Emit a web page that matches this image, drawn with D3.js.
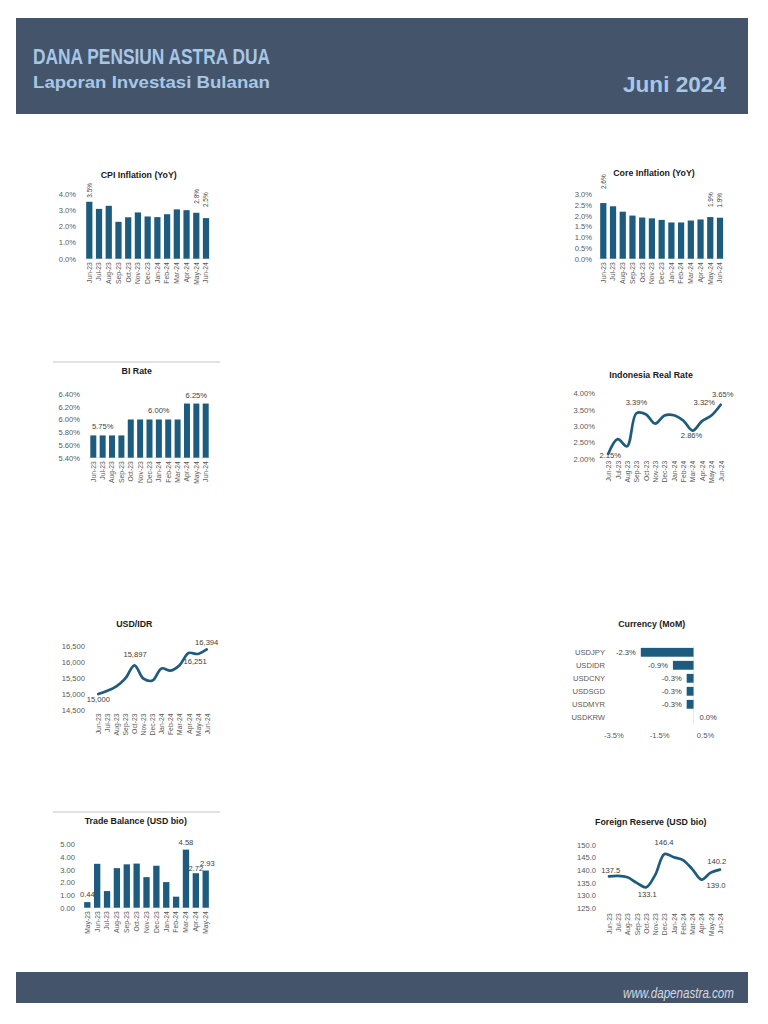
<!DOCTYPE html>
<html>
<head>
<meta charset="utf-8">
<script src="https://cdn.jsdelivr.net/npm/d3@7"></script>
<style>
  body { margin: 0; background: #fff; }
  svg text { font-family: "Liberation Sans", Arial, sans-serif; }
</style>
</head>
<body>
<div id="page"></div>
<script>
// data
var months = ["Jun-23", "Jul-23", "Aug-23", "Sep-23", "Oct-23", "Nov-23", "Dec-23",
              "Jan-24", "Feb-24", "Mar-24", "Apr-24", "May-24", "Jun-24"];
var tradeMonths = ["May-23", "Jun-23", "Jul-23", "Aug-23", "Sep-23", "Oct-23", "Nov-23",
                   "Dec-23", "Jan-24", "Feb-24", "Mar-24", "Apr-24", "May-24"];

var cpiValues = [3.52, 3.08, 3.27, 2.28, 2.56, 2.86, 2.61, 2.57, 2.75, 3.05, 3.00, 2.84, 2.51];
var coreValues = [2.58, 2.43, 2.18, 2.00, 1.91, 1.87, 1.80, 1.68, 1.68, 1.77, 1.82, 1.93, 1.90];
var biRateValues = [5.75, 5.75, 5.75, 5.75, 6.00, 6.00, 6.00, 6.00, 6.00, 6.00, 6.25, 6.25, 6.25];
var realRateValues = [2.15, 2.60, 2.38, 3.39, 3.36, 3.07, 3.32, 3.33, 3.17, 2.86, 3.15, 3.32, 3.65];
var usdIdrValues = [15000, 15100, 15240, 15487, 15897, 15480, 15420, 15800, 15730, 15900, 16280, 16251, 16394];
var currencyPairs = ["USDJPY", "USDIDR", "USDCNY", "USDSGD", "USDMYR", "USDKRW"];
var currencyValues = [-2.3, -0.9, -0.3, -0.3, -0.3, 0.0];
var tradeValues = [0.44, 3.46, 1.31, 3.12, 3.42, 3.48, 2.41, 3.31, 2.02, 0.87, 4.58, 2.72, 2.93];
var reserveValues = [137.5, 137.7, 137.1, 134.9, 133.1, 138.1, 146.4, 145.1, 144.0, 140.4, 136.2, 139.0, 140.2];

// tick labels
var cpiTicks = [0, 1, 2, 3, 4];
var coreTicks = [0, 0.5, 1, 1.5, 2, 2.5, 3];
var biTicks = [5.4, 5.6, 5.8, 6.0, 6.2, 6.4];
var realTicks = [2, 2.5, 3, 3.5, 4];
var usdIdrTicks = [14500, 15000, 15500, 16000, 16500];
var currencyTicks = [-3.5, -1.5, 0.5];
var tradeTicks = [0, 1, 2, 3, 4, 5];
var reserveTicks = [125, 130, 135, 140, 145, 150];

var barColor = "#1d5c7e";
var axisText = "#595959";
var labelText = "#404040";
var sans = "Liberation Sans, Arial, sans-serif";

var svg = d3.select("#page")
    .append("svg")
    .attr("width", 768)
    .attr("height", 1024);

// header + footer bands
svg.append("rect").attr("x", 16).attr("y", 18).attr("width", 732).attr("height", 96).attr("fill", "#44546a");
svg.append("text").attr("x", 33).attr("y", 64).text("DANA PENSIUN ASTRA DUA")
    .attr("fill", "#a7c7e7").attr("font-size", 22).attr("font-weight", "bold")
    .attr("textLength", 237).attr("lengthAdjust", "spacingAndGlyphs");
svg.append("text").attr("x", 33).attr("y", 88).text("Laporan Investasi Bulanan")
    .attr("fill", "#a7c7e7").attr("font-size", 17).attr("font-weight", "bold")
    .attr("textLength", 237).attr("lengthAdjust", "spacingAndGlyphs");
svg.append("text").attr("x", 726).attr("y", 92).text("Juni 2024")
    .attr("fill", "#a7c7e7").attr("font-size", 22).attr("font-weight", "bold")
    .attr("text-anchor", "end")
    .attr("textLength", 103).attr("lengthAdjust", "spacingAndGlyphs");

svg.append("rect").attr("x", 16).attr("y", 972).attr("width", 732).attr("height", 31).attr("fill", "#44546a");
svg.append("text").attr("x", 734).attr("y", 998).text("www.dapenastra.com")
    .attr("fill", "#d3d9e2").attr("font-size", 14).attr("font-style", "italic")
    .attr("text-anchor", "end")
    .attr("textLength", 111).attr("lengthAdjust", "spacingAndGlyphs");

// thin grey rules above two of the charts
[362, 812].forEach(function (ry) {
    svg.append("line").attr("x1", 53).attr("x2", 220).attr("y1", ry).attr("y2", ry)
        .attr("stroke", "#d9d9d9").attr("stroke-width", 1.5);
});

function title(text, x, y) {
    svg.append("text").attr("x", x).attr("y", y).text(text)
        .attr("text-anchor", "middle").attr("font-size", 8.8).attr("font-weight", "bold")
        .attr("fill", "#1a1a1a");
}

// column or line chart with category x axis
function drawChart(cfg) {
    var g = svg.append("g");
    var n = cfg.cats.length;
    var step = (cfg.lastX - cfg.firstX) / (n - 1);
    var lo = cfg.ticks[0], hi = cfg.ticks[cfg.ticks.length - 1];

    var y = d3.scaleLinear().domain([lo, hi]).range([cfg.bottomY, cfg.topY]);
    var x;
    if (cfg.type == "bar") {
        x = d3.scaleBand().domain(cfg.cats)
            .range([cfg.firstX - step / 2, cfg.lastX + step / 2])
            .paddingInner(0.36).paddingOuter(0.18);
    } else {
        x = d3.scalePoint().domain(cfg.cats).range([cfg.firstX, cfg.lastX]);
    }
    var cx = function (i) {
        return cfg.type == "bar" ? x(cfg.cats[i]) + x.bandwidth() / 2 : x(cfg.cats[i]);
    };

    // y axis
    var yAxis = d3.axisLeft(y).tickValues(cfg.ticks).tickFormat(cfg.fmt).tickSize(0).tickPadding(0);
    var ya = g.append("g").attr("transform", `translate(${cfg.axisX},0)`).call(yAxis);
    ya.select(".domain").remove();
    ya.selectAll("text").attr("font-size", 7.6).attr("fill", axisText).attr("font-family", sans);

    // x axis, labels turned upright
    var xAxis = d3.axisBottom(x).tickSize(0).tickPadding(0);
    var xa = g.append("g").attr("transform", `translate(0,${cfg.bottomY + (cfg.xGap || 3.5)})`).call(xAxis);
    xa.select(".domain").remove();
    xa.selectAll("text")
        .attr("transform", "rotate(-90)")
        .attr("text-anchor", "end")
        .attr("x", 0).attr("y", 0).attr("dy", "0.35em")
        .attr("font-size", 6.8).attr("fill", axisText).attr("font-family", sans);

    if (cfg.type == "bar") {
        g.append("line").attr("x1", cfg.firstX - step / 2).attr("x2", cfg.lastX + step / 2)
            .attr("y1", cfg.bottomY).attr("y2", cfg.bottomY)
            .attr("stroke", "#e3e3e3").attr("stroke-width", 0.8);
        g.selectAll("rect.bar")
            .data(cfg.values)
            .enter()
            .append("rect")
            .attr("class", "bar")
            .attr("x", (d, i) => x(cfg.cats[i]))
            .attr("width", x.bandwidth())
            .attr("y", d => y(d))
            .attr("height", d => y(lo) - y(d))
            .attr("fill", barColor);
    } else {
        var line = d3.line()
            .x((d, i) => cx(i))
            .y(d => y(d))
            .curve(d3.curveCatmullRom.alpha(0.5));
        g.append("path")
            .datum(cfg.values)
            .attr("d", line)
            .attr("fill", "none")
            .attr("stroke", barColor)
            .attr("stroke-width", 2.7)
            .attr("stroke-linecap", "round");
    }

    // data labels
    cfg.labels.forEach(function (lb) {
        var v = cfg.values[lb.i];
        var px = cx(lb.i) + (lb.dx || 0);
        var py = y(v) + lb.dy;
        var t = g.append("text").text(cfg.labelFmt(v))
            .attr("fill", labelText)
            .attr("font-size", lb.rot ? 6.5 : 7.6)
            .attr("font-family", cfg.labelFont || sans);
        if (lb.rot) {
            t.attr("transform", `translate(${px},${py}) rotate(-90)`)
                .attr("dy", "0.35em").attr("text-anchor", "start");
        } else {
            t.attr("x", px).attr("y", py).attr("text-anchor", "middle");
        }
    });

    title(cfg.title, cfg.titleX, cfg.titleY);
}

var pct1 = d => d.toFixed(1) + "%";
var pct2 = d => d.toFixed(2) + "%";

drawChart({
    type: "bar", cats: months, values: cpiValues, ticks: cpiTicks, fmt: pct1, labelFmt: pct1,
    firstX: 89.3, lastX: 206, topY: 194, bottomY: 258.7, axisX: 76,
    title: "CPI Inflation (YoY)", titleX: 138.7, titleY: 178,
    labels: [{ i: 0, dy: -4, rot: true }, { i: 11, dy: -9, rot: true }, { i: 12, dy: -11, rot: true }]
});

drawChart({
    type: "bar", cats: months, values: coreValues, ticks: coreTicks, fmt: pct1, labelFmt: pct1,
    firstX: 603.3, lastX: 720, topY: 194, bottomY: 258.7, axisX: 592,
    title: "Core Inflation (YoY)", titleX: 654, titleY: 176,
    labels: [{ i: 0, dy: -14, rot: true }, { i: 11, dy: -10, rot: true }, { i: 12, dy: -10, rot: true }]
});

drawChart({
    type: "bar", cats: months, values: biRateValues, ticks: biTicks, fmt: pct2, labelFmt: pct2,
    firstX: 93.3, lastX: 205.7, topY: 394, bottomY: 457.7, axisX: 80,
    title: "BI Rate", titleX: 136.7, titleY: 374,
    labels: [{ i: 1, dy: -6 }, { i: 7, dy: -6 }, { i: 11, dy: -6 }]
});

drawChart({
    type: "line", cats: months, values: realRateValues, ticks: realTicks, fmt: pct2, labelFmt: pct2,
    firstX: 608.3, lastX: 720.7, topY: 393.3, bottomY: 458.7, axisX: 595, xGap: 2,
    title: "Indonesia Real Rate", titleX: 651, titleY: 378,
    labels: [{ i: 0, dx: 2, dy: 4.5 }, { i: 3, dx: 0, dy: -8.4 }, { i: 9, dx: -1, dy: 7 },
             { i: 11, dx: -7, dy: -10.7 }, { i: 12, dx: 2, dy: -8.2 }]
});

drawChart({
    type: "line", cats: months, values: usdIdrValues, ticks: usdIdrTicks, fmt: d3.format(","),
    labelFmt: d3.format(","), labelFont: "Liberation Serif, Times New Roman, serif",
    firstX: 98.3, lastX: 206.7, topY: 646, bottomY: 710, axisX: 85,
    title: "USD/IDR", titleX: 134.3, titleY: 627,
    labels: [{ i: 0, dy: 7.8 }, { i: 4, dx: 0.6, dy: -7.8 }, { i: 11, dx: -2.6, dy: 10 },
             { i: 12, dy: -4.6 }]
});

drawChart({
    type: "bar", cats: tradeMonths, values: tradeValues, ticks: tradeTicks,
    fmt: d => d.toFixed(2), labelFmt: d => d.toFixed(2),
    firstX: 87.3, lastX: 205.7, topY: 844.3, bottomY: 907.7, axisX: 75,
    title: "Trade Balance (USD bio)", titleX: 135.8, titleY: 824,
    labels: [{ i: 0, dy: -5 }, { i: 10, dy: -5 }, { i: 11, dy: -2 }, { i: 12, dx: 1.6, dy: -5 }]
});

drawChart({
    type: "line", cats: months, values: reserveValues, ticks: reserveTicks,
    fmt: d => d.toFixed(1), labelFmt: d => d.toFixed(1),
    firstX: 609, lastX: 720, topY: 845, bottomY: 907.7, axisX: 596, xGap: 5.6,
    title: "Foreign Reserve (USD bio)", titleX: 650.8, titleY: 825,
    labels: [{ i: 0, dx: 1.7, dy: -3.2 }, { i: 4, dx: 1.3, dy: 9.4 }, { i: 6, dx: -0.5, dy: -9.2 },
             { i: 12, dx: -3.3, dy: -5.4 }, { i: 11, dx: 5.3, dy: 15.6 }]
});

// currency, horizontal bars
(function () {
    var g = svg.append("g");
    var x = d3.scaleLinear().domain([-3.5, 0.5]).range([613.3, 705]);
    var y = d3.scaleBand().domain(currencyPairs).range([645.8, 723.8]).paddingInner(0.32).paddingOuter(0.16);

    g.append("line").attr("x1", x(0)).attr("x2", x(0)).attr("y1", 645.8).attr("y2", 723.8)
        .attr("stroke", "#e3e3e3").attr("stroke-width", 0.8);

    g.selectAll("rect.hbar")
        .data(currencyValues)
        .enter()
        .append("rect")
        .attr("class", "hbar")
        .attr("x", d => x(Math.min(0, d)))
        .attr("width", d => Math.abs(x(d) - x(0)))
        .attr("y", (d, i) => y(currencyPairs[i]))
        .attr("height", y.bandwidth())
        .attr("fill", barColor);

    var yAxis = d3.axisLeft(y).tickSize(0).tickPadding(0);
    var ya = g.append("g").attr("transform", "translate(605,0)").call(yAxis);
    ya.select(".domain").remove();
    ya.selectAll("text").attr("font-size", 7.6).attr("fill", axisText).attr("font-family", sans);

    var xAxis = d3.axisBottom(x).tickValues(currencyTicks).tickFormat(pct1).tickSize(0).tickPadding(0);
    var xa = g.append("g").attr("transform", "translate(0,733)").call(xAxis);
    xa.select(".domain").remove();
    xa.selectAll("text").attr("font-size", 7.6).attr("fill", axisText).attr("dy", "0.71em")
        .attr("font-family", sans);

    g.selectAll("text.val")
        .data(currencyValues)
        .enter()
        .append("text")
        .attr("class", "val")
        .attr("x", d => d < 0 ? x(d) - 5 : x(0) + 6)
        .attr("y", (d, i) => y(currencyPairs[i]) + y.bandwidth() / 2)
        .attr("dy", "0.35em")
        .attr("text-anchor", d => d < 0 ? "end" : "start")
        .attr("font-size", 7.6)
        .attr("fill", labelText)
        .text(pct1);

    title("Currency (MoM)", 651.7, 627);
})();
</script>
</body>
</html>
